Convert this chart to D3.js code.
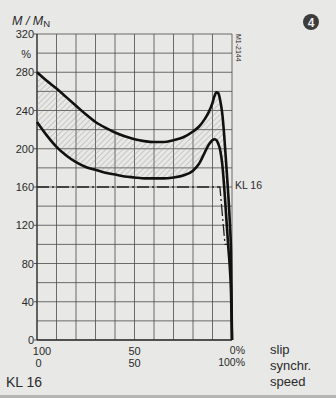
<!DOCTYPE html>
<html>
<head>
<meta charset="utf-8">
<script src="https://cdn.jsdelivr.net/npm/d3@7/dist/d3.min.js"></script>
<style>
  html, body { margin: 0; padding: 0; background: #e8e8e6; }
  svg { display: block; }
  text { font-family: "Liberation Sans", Arial, sans-serif; fill: #2a2a2a; }
</style>
</head>
<body>
<script>
// Torque characteristic of a squirrel-cage motor, class KL 16
// speed in % of synchronous speed (slip = 100 - speed)
const speed = [0, 5, 10, 15, 20, 25, 30, 35, 40, 45, 50, 55, 60, 65, 70, 75, 80, 83, 86, 88, 90, 91, 92, 93, 94, 95, 96, 97, 98, 99, 99.5, 100];
// upper limit of the torque band, M/MN in %
const torqueUpper = [280, 271, 263, 254, 245, 236, 228, 222, 217, 213, 210, 208, 207, 207, 209, 212, 218, 223, 231, 238, 248, 255, 259, 258, 250, 237, 214, 185, 155, 118, 92, 0];
// lower limit of the torque band, M/MN in %
const torqueLower = [228, 214, 202, 193, 186, 181, 178, 175, 173, 171, 170, 169, 169, 169, 170, 172, 177, 184, 196, 204, 209, 210, 209, 205, 198, 184, 160, 130, 100, 72, 50, 0];
// rated-class reference line (dash-dot)
const refSpeed = [0, 93.8, 96.4, 98];
const refTorque = [160, 160, 100, 100];

const yTickValues = [0, 40, 80, 120, 160, 200, 240, 280, 320];
const yGridValues = d3.range(0, 321, 20);
const xGridValues = d3.range(0, 101, 10);
// x labels: position in speed %, slip text and synchronous-speed text
const xLabelSpeed = [0, 50];
const xLabelSlip = ["100", "50"];
const xLabelSync = ["0", "50"];

const W = 336, H = 398;
const x = d3.scaleLinear().domain([0, 100]).range([37, 232]);
const y = d3.scaleLinear().domain([0, 320]).range([340, 34]);

const svg = d3.select("body").append("svg").attr("width", W).attr("height", H);

// hatch pattern for the band between the curves
const defs = svg.append("defs");
const pat = defs.append("pattern")
  .attr("id", "hatch").attr("patternUnits", "userSpaceOnUse")
  .attr("width", 4).attr("height", 4)
  .attr("patternTransform", "rotate(45)");
pat.append("line").attr("x1", 0).attr("y1", 0).attr("x2", 0).attr("y2", 4)
  .attr("stroke", "#8a8a8a").attr("stroke-width", 0.7);

// grid
const grid = svg.append("g").attr("stroke", "#4a4a4a").attr("stroke-width", 0.8);
grid.selectAll("line.h").data(yGridValues).join("line")
  .attr("x1", x(0)).attr("x2", x(100))
  .attr("y1", d => y(d)).attr("y2", d => y(d));
grid.selectAll("line.v").data(xGridValues).join("line")
  .attr("x1", d => x(d)).attr("x2", d => x(d))
  .attr("y1", y(0)).attr("y2", y(320));

// axes frame (left and bottom)
svg.append("line").attr("x1", x(0)).attr("x2", x(0)).attr("y1", y(0)).attr("y2", y(320))
  .attr("stroke", "#333").attr("stroke-width", 1.2);
svg.append("line").attr("x1", x(0)).attr("x2", x(100)).attr("y1", y(0)).attr("y2", y(0))
  .attr("stroke", "#333").attr("stroke-width", 1.4);

// y ticks
svg.append("g").selectAll("line").data(yTickValues).join("line")
  .attr("x1", x(0) - 3).attr("x2", x(0))
  .attr("y1", d => y(d)).attr("y2", d => y(d))
  .attr("stroke", "#333").attr("stroke-width", 0.8);
svg.append("g").selectAll("text").data(yTickValues).join("text")
  .attr("x", 34).attr("y", d => y(d) + 4)
  .attr("text-anchor", "end").attr("font-size", 11)
  .text(d => d);
svg.append("text").attr("x", 31).attr("y", y(300) + 5)
  .attr("text-anchor", "end").attr("font-size", 11).text("%");

// y axis title
const yt = svg.append("text").attr("x", 12).attr("y", 25).attr("font-size", 12.5).attr("font-style", "italic");
yt.append("tspan").text("M / M");
yt.append("tspan").attr("dy", 2).attr("font-size", 9.5).attr("font-style", "normal").text("N");

// band between curves
const pts = speed.map((s, i) => ({ s, lo: torqueLower[i], hi: torqueUpper[i] }));
const area = d3.area().x(d => x(d.s)).y0(d => y(d.lo)).y1(d => y(d.hi)).curve(d3.curveMonotoneX);
svg.append("path").datum(pts).attr("d", area).attr("fill", "url(#hatch)");

// curves
const lineHi = d3.line().x(d => x(d.s)).y(d => y(d.hi)).curve(d3.curveMonotoneX);
const lineLo = d3.line().x(d => x(d.s)).y(d => y(d.lo)).curve(d3.curveMonotoneX);
svg.append("path").datum(pts).attr("d", lineHi)
  .attr("fill", "none").attr("stroke", "#111").attr("stroke-width", 2.6).attr("stroke-linejoin", "round");
svg.append("path").datum(pts).attr("d", lineLo)
  .attr("fill", "none").attr("stroke", "#111").attr("stroke-width", 2.6).attr("stroke-linejoin", "round");

// dash-dot reference line
const refPts = refSpeed.map((s, i) => [x(s), y(refTorque[i])]);
svg.append("path").attr("d", d3.line()(refPts))
  .attr("fill", "none").attr("stroke", "#222").attr("stroke-width", 1.3)
  .attr("stroke-dasharray", "12,3,2,3");

svg.append("text").attr("x", 235).attr("y", 189).attr("font-size", 10.5).text("KL 16");

// x labels (slip on top row, synchronous speed below)
svg.append("g").selectAll("text").data(xLabelSpeed).join("text")
  .attr("x", d => x(d) + (d === 0 ? 5 : 0)).attr("y", 355)
  .attr("text-anchor", "middle").attr("font-size", 11).text((d, i) => xLabelSlip[i]);
svg.append("g").selectAll("text").data(xLabelSpeed).join("text")
  .attr("x", d => x(d) + (d === 0 ? 1.5 : 0)).attr("y", 367)
  .attr("text-anchor", "middle").attr("font-size", 11).text((d, i) => xLabelSync[i]);
svg.append("text").attr("x", 245).attr("y", 354).attr("text-anchor", "end").attr("font-size", 10.5).text("0%");
svg.append("text").attr("x", 245).attr("y", 366).attr("text-anchor", "end").attr("font-size", 10.5).text("100%");

svg.append("text").attr("x", 270).attr("y", 354).attr("font-size", 13).text("slip");
svg.append("text").attr("x", 270).attr("y", 370).attr("font-size", 13).text("synchr.");
svg.append("text").attr("x", 270).attr("y", 386).attr("font-size", 13).text("speed");

svg.append("text").attr("x", 6).attr("y", 387).attr("font-size", 14).text("KL 16");

// drawing number, rotated
svg.append("text").attr("transform", "translate(236,34) rotate(90)")
  .attr("font-size", 7).text("M1-2144");

// figure number badge
svg.append("circle").attr("cx", 311).attr("cy", 22).attr("r", 8).attr("fill", "#3c3c3c");
svg.append("text").attr("x", 311).attr("y", 26.5).attr("text-anchor", "middle")
  .attr("font-size", 12).attr("font-weight", "bold").style("fill", "#eee").text("4");

// bottom edge
svg.append("rect").attr("x", 0).attr("y", 395).attr("width", W).attr("height", 3).attr("fill", "#b5b5b3");
</script>
</body>
</html>
